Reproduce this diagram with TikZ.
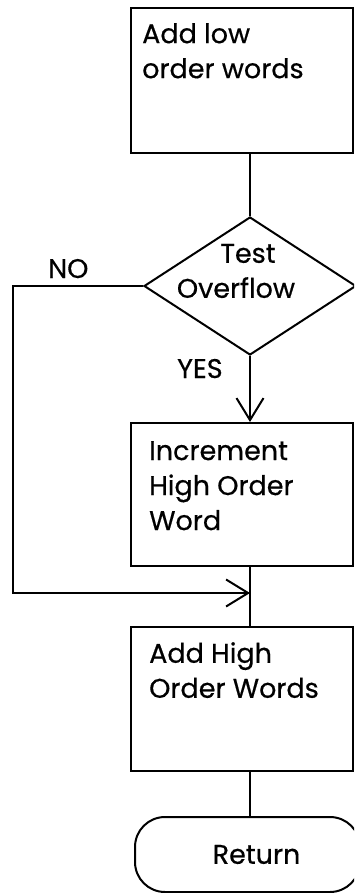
\documentclass[tikz,border=0pt]{standalone}
\usepackage{fontspec}
\newfontfamily\flowfont{Poppins}[FakeBold=0.5]
\usetikzlibrary{shapes.geometric,arrows.meta}
\begin{document}
\begin{tikzpicture}[x=1pt,y=-1pt,
  flow/.style={draw, line width=2pt},
  procbox/.style={flow, rectangle, minimum width=222pt, inner sep=0pt},
  txt/.style={font=\flowfont\fontsize{27}{35}\selectfont, align=left, inner sep=0pt},
  decision/.style={flow, diamond, minimum width=212pt, minimum height=138pt, inner sep=0pt},
  terminal/.style={flow, rectangle, rounded corners=30pt, minimum width=225pt,
    minimum height=75pt, font=\flowfont\fontsize{27}{35}\selectfont},
  link/.style={line width=2pt},
  arr/.style={link, -{Straight Barb[length=22pt,width=27pt]}}
]
\clip (0,0) rectangle (354,893);

% process boxes
\node[procbox, minimum height=145pt] (b1) at (242,80.5) {};
\node[txt, anchor=north west] (t1) at ([shift={(12,16)}]b1.north west) {Add low\\order words};

\node[decision] (dia) at (250,286) {};
\node[txt, align=center] (dt) at (236,271) {\hspace*{24pt}Test\\Overflow};

\node[procbox, minimum height=143pt] (b2) at (242,494.5) {};
\node[txt, anchor=north west] (t2) at ([shift={(19,19)}]b2.north west) {Increment\\High Order\\Word};

\node[procbox, minimum height=144pt] (b3) at (242,699) {};
\node[txt, anchor=north west] (t3) at ([shift={(19,16)}]b3.north west) {Add High\\Order Words};

\node[terminal] (ret) at (247.5,854.5) {\hspace*{18pt}Return};

% branch labels
\node[txt, anchor=base west] (no) at (48,278) {NO};
\node[txt, anchor=base west] (yes) at (177,378) {YES};

\coordinate (m) at (250,593);

% connectors
\draw[link] (b1.south -| dia.north) -- (dia.north);
\draw[arr] (dia.south) -- (dia.south |- b2.north);
\draw[link] (dia.south |- b2.south) -- (dia.south |- b3.north);
\draw[arr] (dia.west) -- (13,286) -- (13,593) -- (m);
\draw[link] (dia.south |- b3.south) -- (ret.north -| dia.south);
\end{tikzpicture}
\end{document}
